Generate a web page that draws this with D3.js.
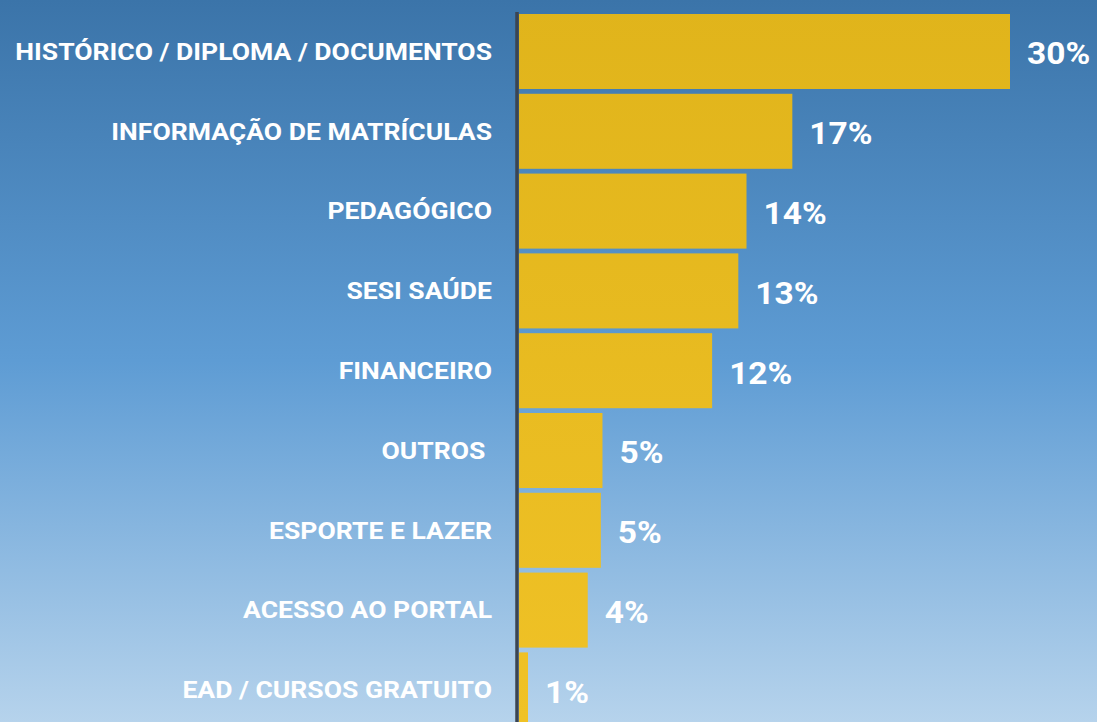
<!DOCTYPE html>
<meta charset="utf-8">
<html lang="pt">
<head>
    <title>Chart</title>
    <script src="https://cdn.jsdelivr.net/npm/d3@7"></script>
</head>
<style>
    body { margin: 0; }
    text { font-family: Roboto, "Noto Sans", sans-serif; font-weight: 700; fill: #ffffff; }
    .cat { font-size: 23.5px; white-space: pre; }
    .val { font-size: 31px; }
</style>
<body>
<script>
    var categories = ["HISTÓRICO / DIPLOMA / DOCUMENTOS", "INFORMAÇÃO DE MATRÍCULAS", "PEDAGÓGICO", "SESI SAÚDE",
        "FINANCEIRO", "OUTROS ", "ESPORTE E LAZER", "ACESSO AO PORTAL", "EAD / CURSOS GRATUITO"];
    var values = [30, 16.7, 13.9, 13.4, 11.8, 5.1, 5.0, 4.2, 0.55];
    var labels = ["30%", "17%", "14%", "13%", "12%", "5%", "5%", "4%", "1%"];

    var W = 1097, H = 722;
    var svg = d3.select("body").append("svg").attr("width", W).attr("height", H);

    var defs = svg.append("defs");
    var bg = defs.append("linearGradient").attr("id", "bg").attr("x1", 0).attr("y1", 0).attr("x2", 0).attr("y2", 1);
    bg.append("stop").attr("offset", "0%").attr("stop-color", "#3b74a9");
    bg.append("stop").attr("offset", "50%").attr("stop-color", "#5e9cd4");
    bg.append("stop").attr("offset", "100%").attr("stop-color", "#b6d3ec");

    var bf = defs.append("linearGradient").attr("id", "bf").attr("gradientUnits", "userSpaceOnUse")
        .attr("x1", 0).attr("y1", 0).attr("x2", 0).attr("y2", H);
    bf.append("stop").attr("offset", "0%").attr("stop-color", "#e0b41b");
    bf.append("stop").attr("offset", "100%").attr("stop-color", "#f0c226");

    svg.append("rect").attr("width", W).attr("height", H).attr("fill", "url(#bg)");

    var y = d3.scaleBand().domain(categories).range([11.6, 11.6 + 79.8 * 9])
        .paddingInner(0.06).paddingOuter(0.03);
    var x = d3.scaleLinear().domain([0, 30]).range([519, 1010]);

    var data = categories.map(function (c, i) { return {cat: c, v: values[i], label: labels[i]}; });

    svg.selectAll(".bar").data(data).enter().append("rect").attr("class", "bar")
        .attr("x", x(0))
        .attr("y", d => y(d.cat))
        .attr("width", d => x(d.v) - x(0))
        .attr("height", y.bandwidth())
        .attr("fill", "url(#bf)");

    svg.append("line").attr("x1", 517).attr("x2", 517).attr("y1", 12).attr("y2", H)
        .attr("stroke", "#3b4552").attr("stroke-width", 3.5);

    // labels are a little wider than plain Roboto in the original, so stretch them
    svg.selectAll(".cat").data(data).enter().append("text").attr("class", "cat")
        .attr("transform", d => "translate(492," + (y(d.cat) + y.bandwidth() / 2) + ") scale(1.13,1)")
        .attr("dy", "0.35em")
        .attr("text-anchor", "end")
        .text(d => d.cat);

    svg.selectAll(".val").data(data).enter().append("text").attr("class", "val")
        .attr("transform", d => "translate(" + (x(d.v) + 17) + "," + (y(d.cat) + y.bandwidth() / 2 + 2) + ") scale(1.08,1)")
        .attr("dy", "0.35em")
        .text(d => d.label);
</script>
</body>
</html>
